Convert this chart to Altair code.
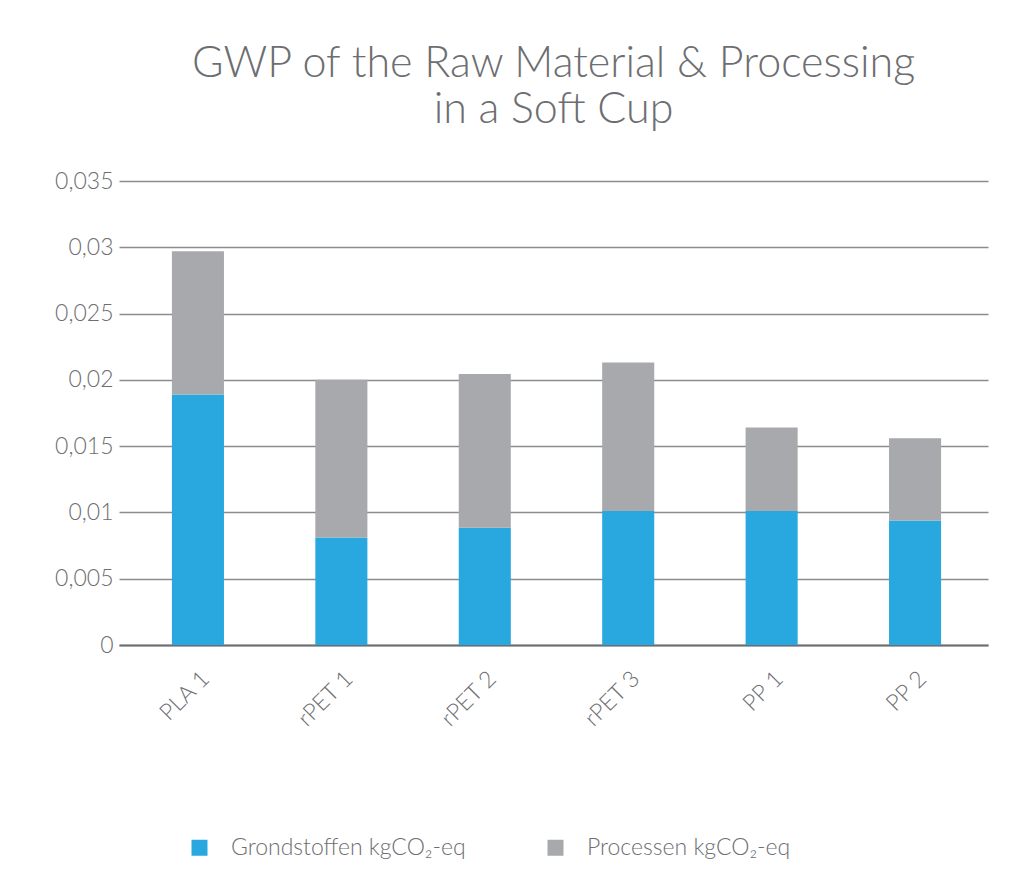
import altair as alt
import pandas as pd

categories = ["PLA 1", "rPET 1", "rPET 2", "rPET 3", "PP 1", "PP  2"]
grondstoffen = [0.0189, 0.0081, 0.00885, 0.0101, 0.0101, 0.0094]
processen = [0.0108, 0.0119, 0.0116, 0.0112, 0.0063, 0.0062]
series_names = ["Grondstoffen kgCO₂-eq", "Processen kgCO₂-eq"]
y_ticks = [0, 0.005, 0.01, 0.015, 0.02, 0.025, 0.03, 0.035]

rows = []
for c, g, p in zip(categories, grondstoffen, processen):
    rows.append({"cat": c, "series": series_names[0], "value": g, "ord": 0})
    rows.append({"cat": c, "series": series_names[1], "value": p, "ord": 1})
df = pd.DataFrame(rows)

FONT = "Lato"
TXT = "#6d6e71"

chart = alt.Chart(df).mark_bar().encode(
    x=alt.X("cat:N", sort=categories, title=None,
            scale=alt.Scale(paddingInner=0.637, paddingOuter=0.348, align=0.53),
            axis=alt.Axis(labelAngle=-45, labelFontSize=23, labelColor=TXT,
                          labelFont=FONT, labelFontWeight=300, ticks=False,
                          domainColor="#6d6e71", domainWidth=2, labelPadding=22)),
    y=alt.Y("value:Q", stack="zero", title=None,
            scale=alt.Scale(domain=[0, 0.035], nice=False),
            axis=alt.Axis(values=y_ticks, labelExpr="replace(toString(datum.value), '.', ',')",
                          labelFontSize=23, labelColor=TXT, labelFont=FONT,
                          labelFontWeight=300, ticks=False, domain=False, labelPadding=6,
                          gridColor="#8c8c8c", gridWidth=1.3)),
    color=alt.Color("series:N", sort=series_names,
                    scale=alt.Scale(domain=series_names, range=["#29a8e0", "#a7a9ac"]),
                    legend=alt.Legend(title=None, orient="none", direction="horizontal",
                                      legendX=69, legendY=655, symbolType="square",
                                      symbolSize=256, symbolStrokeWidth=0,
                                      labelFontSize=23, labelColor=TXT, labelFont=FONT,
                                      labelFontWeight=300, labelLimit=500,
                                      labelOffset=20, columnPadding=78)),
    order=alt.Order("ord:Q"),
).properties(
    width=869, height=464,
    title=alt.Title(["GWP of the Raw Material & Processing", "in a Soft Cup"],
                    fontSize=43, font=FONT, fontWeight=300, color=TXT,
                    anchor="middle", offset=38, lineHeight=46),
    autosize=alt.AutoSizeParams(type="none"),
    padding={"left": 111, "top": 173, "right": 37, "bottom": 219},
).configure_view(stroke=None)

chart.save("out.html", embed_options={"renderer": "svg", "actions": False})
